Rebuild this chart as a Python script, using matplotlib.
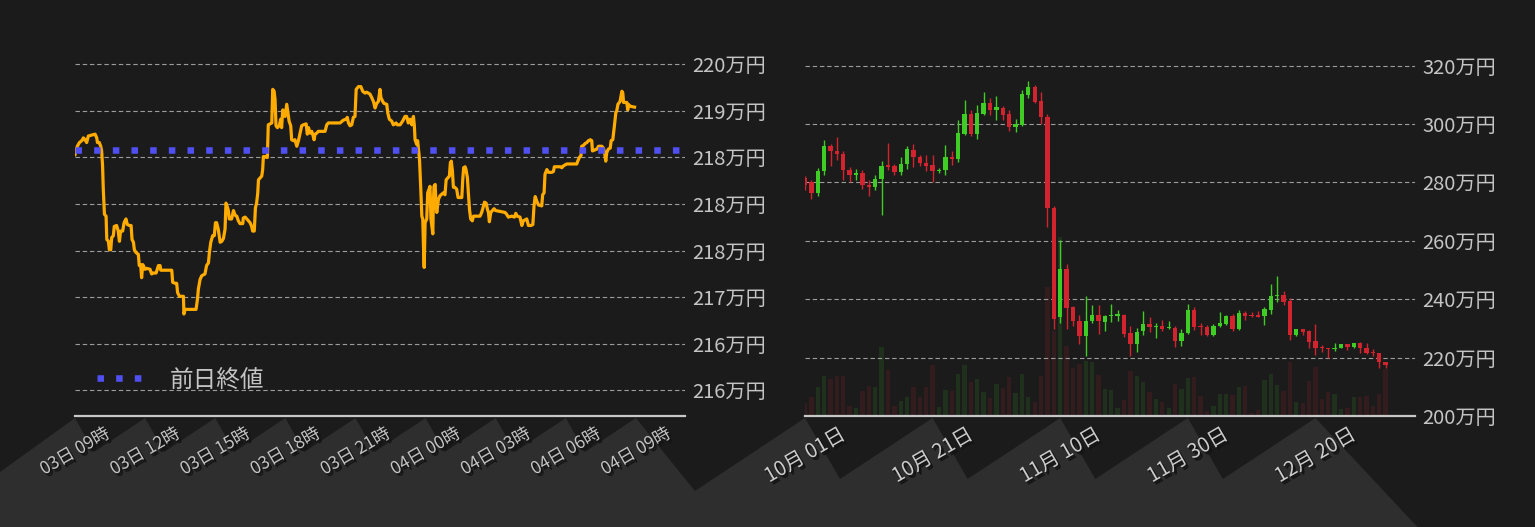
import numpy as np
import matplotlib
matplotlib.use('Agg')
import matplotlib.pyplot as plt
import matplotlib.patheffects as pe
from matplotlib.patches import Polygon
from matplotlib.transforms import IdentityTransform

FONT = ['Noto Sans CJK JP', 'DejaVu Sans']
plt.rcParams['font.family'] = FONT

# ---------------- data: intraday (left) ----------------
hours = [0.00, 0.10, 0.19, 0.29, 0.36, 0.43, 0.50, 0.57, 0.71, 0.86, 0.93, 0.96, 1.04, 1.10, 1.14, 1.18,
         1.21, 1.26, 1.33, 1.36, 1.43, 1.47, 1.53, 1.57, 1.64, 1.68, 1.78, 1.85, 1.90, 1.95, 2.04, 2.10,
         2.18, 2.24, 2.33, 2.40, 2.44, 2.50, 2.54, 2.61, 2.71, 2.75, 2.81, 2.85, 2.90, 3.00, 3.07, 3.21,
         3.28, 3.35, 3.47, 3.57, 3.64, 3.67, 3.92, 4.14, 4.18, 4.28, 4.35, 4.39, 4.47, 4.64, 4.66, 4.71,
         5.18, 5.24, 5.28, 5.35, 5.42, 5.56, 5.63, 5.71, 5.75, 5.81, 5.89, 5.96, 6.01, 6.06, 6.13, 6.21,
         6.28, 6.35, 6.42, 6.46, 6.53, 6.56, 6.60, 6.70, 6.78, 6.85, 6.92, 6.99, 7.06, 7.18, 7.20, 7.28,
         7.35, 7.42, 7.49, 7.56, 7.60, 7.67, 7.72, 7.77, 7.82, 7.85, 7.92, 7.99, 8.03, 8.06, 8.13, 8.20,
         8.23, 8.27, 8.42, 8.46, 8.52, 8.56, 8.60, 8.66, 8.74, 8.80, 8.84, 8.89, 8.94, 8.99, 9.06, 9.10,
         9.16, 9.23, 9.27, 9.34, 9.41, 9.49, 9.56, 9.63, 9.70, 9.77, 9.89, 9.94, 9.99, 10.06, 10.13, 10.17,
         10.23, 10.27, 10.34, 10.41, 10.70, 10.77, 10.84, 11.34, 11.48, 11.60, 11.65, 11.70, 11.77, 11.84, 11.91, 11.98,
         12.03, 12.13, 12.23, 12.31, 12.41, 12.48, 12.55, 12.62, 12.70, 12.77, 12.84, 12.91, 12.98, 13.05, 13.09, 13.17,
         13.22, 13.34, 13.38, 13.45, 13.55, 13.62, 13.74, 13.79, 13.91, 14.02, 14.12, 14.19, 14.26, 14.34, 14.41, 14.48,
         14.52, 14.55, 14.62, 14.66, 14.74, 14.79, 14.84, 14.88, 14.91, 14.94, 14.98, 15.05, 15.09, 15.15, 15.19, 15.23,
         15.31, 15.33, 15.36, 15.41, 15.45, 15.48, 15.55, 15.62, 15.76, 15.83, 15.88, 15.95, 16.02, 16.06, 16.10, 16.15,
         16.19, 16.25, 16.33, 16.39, 16.48, 16.55, 16.59, 16.63, 16.69, 16.73, 16.79, 16.83, 16.88, 16.93, 17.00, 17.05,
         17.33, 17.40, 17.48, 17.52, 17.59, 17.65, 17.69, 17.73, 17.79, 17.86, 17.93, 18.00, 18.40, 18.47, 18.54, 18.69,
         18.80, 18.86, 18.92, 19.04, 19.12, 19.18, 19.33, 19.40, 19.51, 19.59, 19.64, 19.69, 19.76, 19.83, 19.97, 20.01,
         20.07, 20.11, 20.19, 20.26, 20.40, 20.47, 20.51, 20.76, 20.83, 20.90, 21.04, 21.47, 21.51, 21.58, 21.65, 21.68,
         21.76, 21.83, 21.90, 21.97, 22.05, 22.11, 22.14, 22.23, 22.33, 22.40, 22.54, 22.61, 22.66, 22.71, 22.75, 22.82,
         22.90, 22.94, 23.01, 23.08, 23.14, 23.18, 23.23, 23.32, 23.40, 23.44, 23.47, 23.54, 23.61, 23.65, 23.68, 23.75,
         23.94]
price = [218.53, 218.62, 218.66, 218.68, 218.71, 218.69, 218.66, 218.73, 218.74, 218.75, 218.71, 218.66, 218.66, 218.62, 218.57, 218.41,
         218.16, 217.89, 217.87, 217.62, 217.60, 217.51, 217.51, 217.64, 217.66, 217.76, 217.77, 217.71, 217.60, 217.71, 217.71, 217.80,
         217.84, 217.78, 217.77, 217.77, 217.62, 217.59, 217.51, 217.48, 217.46, 217.34, 217.35, 217.21, 217.35, 217.30, 217.31, 217.30,
         217.25, 217.26, 217.26, 217.34, 217.34, 217.29, 217.29, 217.29, 217.16, 217.15, 217.15, 217.05, 217.01, 217.01, 216.82, 216.87,
         216.87, 216.98, 217.09, 217.19, 217.23, 217.25, 217.34, 217.37, 217.48, 217.59, 217.66, 217.66, 217.80, 217.80, 217.73, 217.59,
         217.60, 217.63, 217.73, 218.01, 217.96, 217.93, 217.84, 217.84, 217.93, 217.88, 217.87, 217.82, 217.79, 217.79, 217.85, 217.86,
         217.84, 217.82, 217.80, 217.76, 217.71, 217.71, 217.96, 218.01, 218.12, 218.26, 218.28, 218.30, 218.37, 218.51, 218.51, 218.50,
         218.50, 218.85, 218.87, 219.23, 219.21, 219.12, 218.84, 218.82, 218.84, 218.91, 218.82, 219.01, 218.98, 218.94, 219.07, 219.00,
         218.89, 218.84, 218.69, 218.68, 218.69, 218.62, 218.68, 218.76, 218.84, 218.85, 218.86, 218.75, 218.82, 218.76, 218.78, 218.75,
         218.69, 218.75, 218.76, 218.78, 218.78, 218.85, 218.87, 218.87, 218.90, 218.91, 218.93, 218.87, 218.84, 218.85, 218.93, 218.94,
         219.23, 219.26, 219.26, 219.21, 219.19, 219.20, 219.19, 219.18, 219.14, 219.10, 219.03, 219.08, 219.10, 219.23, 219.14, 219.10,
         219.08, 219.07, 218.98, 218.91, 218.89, 218.85, 218.87, 218.85, 218.85, 218.89, 218.94, 218.94, 218.87, 218.91, 218.85, 218.94,
         218.84, 218.69, 218.64, 218.68, 218.48, 218.19, 217.87, 217.84, 217.55, 217.32, 217.80, 217.84, 218.12, 218.16, 218.19, 217.84,
         217.68, 217.98, 218.19, 218.21, 217.98, 217.91, 218.05, 218.09, 218.12, 218.10, 218.26, 218.28, 218.30, 218.44, 218.46, 218.35,
         218.18, 218.18, 218.16, 218.07, 218.07, 218.07, 218.26, 218.39, 218.40, 218.37, 218.28, 218.12, 217.94, 217.84, 217.82, 217.87,
         217.87, 217.91, 217.98, 218.02, 218.01, 217.94, 217.91, 217.81, 217.91, 217.93, 217.95, 217.93, 217.91, 217.89, 217.86, 217.87,
         217.86, 217.90, 217.87, 217.86, 217.77, 217.82, 217.84, 217.77, 217.77, 217.78, 217.98, 218.08, 218.03, 217.99, 217.98, 218.10,
         218.12, 218.32, 218.37, 218.34, 218.34, 218.35, 218.40, 218.40, 218.39, 218.41, 218.43, 218.43, 218.46, 218.50, 218.52, 218.62,
         218.63, 218.65, 218.66, 218.68, 218.69, 218.68, 218.57, 218.58, 218.59, 218.62, 218.62, 218.60, 218.55, 218.46, 218.55, 218.59,
         218.60, 218.68, 218.69, 218.84, 218.98, 219.00, 219.07, 219.10, 219.21, 219.19, 219.09, 219.09, 219.09, 219.01, 219.07, 219.05,
         219.04]
prev_close = 218.58
left_tick_hours = [0, 3, 6, 9, 12, 15, 18, 21, 24]
left_tick_labels = ['03日 09時', '03日 12時', '03日 15時', '03日 18時', '03日 21時',
                    '04日 00時', '04日 03時', '04日 06時', '04日 09時']
left_ytick_values = [219.5, 219.0, 218.5, 218.0, 217.5, 217.0, 216.5, 216.0]
left_ytick_labels = ['220万円', '219万円', '218万円', '218万円', '218万円', '217万円', '216万円', '216万円']
legend_label = '前日終値'

# ---------------- data: daily candles (right) ----------------
opens = [281.5, 280.2, 276.3, 283.8, 292.6, 290.9, 289.9, 284.4, 282.4, 283.4, 279.3, 278.3, 281.1, 285.9, 285.6, 283.5,
         286.2, 291.2, 288.8, 286.8, 286.1, 283.8, 284.2, 288.8, 287.9, 296.7, 303.4, 296.7, 303.5, 307.3, 305.0, 305.6,
         303.5, 298.9, 299.8, 310.0, 312.8, 308.0, 302.5, 271.3, 233.8, 250.4, 237.2, 232.7, 227.3, 232.4, 234.7, 232.1,
         234.1, 234.4, 234.7, 228.6, 224.5, 229.0, 231.6, 230.4, 230.7, 230.1, 230.2, 225.6, 228.4, 236.4, 230.7, 230.6,
         227.7, 230.7, 231.6, 234.4, 229.9, 235.3, 234.4, 234.4, 234.1, 236.4, 241.0, 241.5, 239.4, 227.6, 229.9, 229.0,
         225.6, 223.6, 223.4, 222.8, 223.2, 224.5, 223.8, 224.9, 223.4, 221.9, 221.7, 218.6]
highs = [282.3, 281.0, 285.0, 294.6, 293.3, 295.7, 290.9, 285.3, 284.7, 284.4, 281.0, 282.7, 287.5, 293.6, 286.3, 288.8,
         292.6, 293.3, 289.5, 289.5, 289.5, 285.0, 292.9, 290.9, 301.5, 308.3, 304.9, 306.6, 311.1, 309.0, 309.7, 306.3,
         304.9, 301.8, 311.7, 314.8, 313.4, 311.1, 303.4, 272.1, 260.2, 252.2, 237.7, 234.7, 241.1, 238.1, 238.1, 234.7,
         238.4, 236.4, 234.9, 231.0, 230.2, 236.0, 233.8, 231.9, 233.0, 232.4, 231.0, 229.9, 238.4, 237.5, 231.9, 231.3,
         231.5, 235.6, 234.5, 234.9, 236.4, 236.0, 235.8, 236.0, 237.2, 245.2, 247.9, 242.8, 240.3, 229.9, 229.9, 229.3,
         231.6, 224.2, 223.4, 225.1, 224.5, 224.5, 224.9, 225.4, 224.9, 222.8, 221.7, 218.6]
lows = [277.6, 274.5, 275.3, 282.7, 285.5, 287.8, 281.0, 280.2, 281.0, 277.9, 275.3, 277.5, 269.0, 284.2, 282.5, 282.7,
        284.7, 285.2, 285.8, 283.8, 280.2, 283.1, 282.5, 285.9, 286.9, 296.4, 295.8, 295.0, 303.2, 303.0, 301.5, 301.3,
        297.5, 297.2, 299.4, 309.1, 307.4, 300.0, 264.9, 229.9, 231.7, 229.9, 230.7, 224.7, 220.6, 231.9, 228.2, 229.0,
        232.1, 232.4, 227.0, 220.6, 221.9, 227.6, 228.8, 226.6, 229.0, 229.9, 223.6, 224.0, 228.1, 229.6, 227.9, 227.5,
        227.5, 230.4, 231.3, 229.0, 229.3, 233.0, 234.0, 233.8, 231.3, 235.0, 238.9, 237.9, 226.2, 227.3, 227.9, 223.2,
        220.9, 221.9, 220.0, 222.3, 223.2, 222.5, 223.2, 221.5, 221.4, 220.6, 216.6, 216.6]
closes = [279.3, 276.3, 284.0, 292.6, 290.7, 289.7, 284.2, 282.4, 283.4, 279.0, 278.3, 281.3, 285.8, 285.4, 283.5, 286.3,
          291.6, 288.6, 286.6, 285.8, 283.8, 284.4, 288.8, 287.9, 296.9, 303.4, 296.7, 303.9, 307.3, 305.0, 305.7, 303.2,
          298.9, 300.0, 310.4, 312.8, 307.6, 302.3, 271.1, 233.4, 250.4, 237.0, 232.4, 227.3, 232.7, 234.7, 232.4, 234.4,
          234.7, 234.7, 228.2, 224.5, 228.8, 231.6, 230.4, 230.7, 229.9, 230.4, 225.6, 228.5, 236.4, 230.4, 230.4, 227.7,
          231.0, 231.9, 234.4, 229.9, 235.3, 234.1, 234.1, 234.0, 236.6, 241.1, 241.5, 239.2, 227.6, 229.9, 228.7, 225.3,
          223.2, 223.3, 222.8, 223.4, 224.5, 223.8, 224.9, 223.2, 221.5, 221.6, 218.5, 217.5]
volume = [13, 19, 29, 40, 37, 40, 40, 10, 8, 25, 30, 29, 69, 46, 10, 15, 19, 29, 19, 29, 51, 9, 26, 25, 42, 51, 34, 37,
          24, 18, 32, 28, 39, 23, 42, 19, 14, 40, 129, 85, 179, 70, 48, 52, 55, 54, 41, 27, 26, 8, 16, 45, 40, 34, 24, 17,
          14, 8, 32, 27, 38, 39, 20, 5, 10, 22, 22, 21, 29, 30, 3, 6, 36, 42, 31, 25, 54, 14, 13, 35, 49, 17, 24, 22, 7, 8,
          19, 19, 20, 10, 22, 47]
right_tick_days = [0, 20, 40, 60, 80]
right_tick_labels = ['10月 01日', '10月 21日', '11月 10日', '11月 30日', '12月 20日']
right_ytick_values = [200, 220, 240, 260, 280, 300, 320]
right_ytick_labels = ['200万円', '220万円', '240万円', '260万円', '280万円', '300万円', '320万円']

# ---------------- style ----------------
BG = '#1b1b1b'
BAND = '#2e2e2e'
TXT = '#c4c4c4'
GRID = '#9c9c9c'
ORANGE = '#ffab00'
BLUE = '#5050f2'
UP = '#3fcc25'
DOWN = '#d1242f'
W, H = 1535, 527

fig = plt.figure(figsize=(W / 100, H / 100), dpi=100, facecolor=BG)

ax_bottom_px, ax_top_px = 416, 40
bottom = (H - ax_bottom_px) / H
height = (ax_bottom_px - ax_top_px) / H
axL = fig.add_axes([75 / W, bottom, 610 / W, height], facecolor='none')
axV = fig.add_axes([805 / W, bottom, 610 / W, height], facecolor='none')
axC = axV.twinx()

shadow = [pe.SimplePatchShadow(offset=(1.0, -1.0), shadow_rgbFace='#141414', alpha=1),
          pe.SimplePatchShadow(offset=(2.0, -2.0), shadow_rgbFace='#141414', alpha=1),
          pe.Normal()]


def style_axis(ax):
    for s in ['top', 'left', 'right']:
        ax.spines[s].set_visible(False)
    ax.spines['bottom'].set_color('#c8c8c8')
    ax.spines['bottom'].set_linewidth(1.6)
    ax.spines['bottom'].set_zorder(5)
    ax.yaxis.grid(True, color=GRID, linewidth=0.8, linestyle=(0, (4, 2.5)))
    ax.set_axisbelow(False)
    ax.tick_params(axis='y', which='both', length=0, pad=5, colors=TXT, labelsize=14.5,
                   left=False, labelleft=False, right=True, labelright=True)
    ax.tick_params(axis='x', length=0, pad=6, colors=TXT)


# ---- left panel ----
style_axis(axL)
axL.plot(hours, price, color=ORANGE, linewidth=2.3, zorder=3, solid_joinstyle='round')
blue_line, = axL.plot([0, 26.1], [prev_close, prev_close], color=BLUE, linewidth=4.7,
                      dashes=(1, 1.86), dash_capstyle='butt', zorder=4, label=legend_label)
axL.set_xlim(0, 26.1)
axL.set_ylim(215.726, 219.76)
axL.set_yticks(left_ytick_values)
axL.set_yticklabels(left_ytick_labels)
axL.set_xticks(left_tick_hours)
axL.set_xticklabels(left_tick_labels, rotation=30, ha='center', va='top', fontsize=12.5,
                    color='#c4c4c4')
for t in axL.get_xticklabels():
    t.set_path_effects(shadow)
leg = axL.legend(handles=[blue_line], loc='center left', bbox_to_anchor=(22 / 610, 36 / 376),
                 frameon=False, borderpad=0, borderaxespad=0, handlelength=1.9,
                 handletextpad=1.2, prop={'family': FONT, 'size': 17})
for t in leg.get_texts():
    t.set_color(TXT)

# ---- right panel ----
x = np.arange(len(opens))
o = np.array(opens); c = np.array(closes)
up = c >= o
cols = np.where(up, UP, DOWN)
axV.bar(x, volume, width=0.68, color=cols, alpha=0.13, linewidth=0, zorder=1)
axV.set_ylim(0, ax_bottom_px - ax_top_px)
axV.set_yticks([])
for s in ['top', 'left', 'right']:
    axV.spines[s].set_visible(False)

style_axis(axC)
axC.vlines(x, lows, highs, colors=cols, linewidth=1.0, zorder=3)
body_low = np.minimum(o, c)
body_h = np.maximum(np.abs(c - o), 0.45)
axC.bar(x, body_h, bottom=body_low, width=0.68, color=cols, linewidth=0, zorder=4)
axC.set_xlim(0, 95.6)
axC.set_ylim(200.27, 328.82)
axC.set_yticks(right_ytick_values)
axC.set_yticklabels(right_ytick_labels)
axV.set_xlim(0, 95.6)
axV.set_xticks(right_tick_days)
axV.set_xticklabels(right_tick_labels, rotation=30, ha='center', va='top', fontsize=14.5,
                    color='#cccccc')
axV.tick_params(axis='x', length=0, pad=6)
axC.tick_params(axis='x', labelbottom=False)
for t in axV.get_xticklabels():
    t.set_path_effects(shadow)
axV.spines['bottom'].set_visible(True)
axV.spines['bottom'].set_color('#c8c8c8')
axV.spines['bottom'].set_linewidth(1.6)
axC.spines['bottom'].set_visible(False)

# ---- decorative band under the tick labels ----
def img_x(ax, xv):
    return ax.transData.transform((xv, 0))[0]

lt = [img_x(axL, h) for h in left_tick_hours]
rt = [img_x(axV, d) for d in right_tick_days]
pts = [(0, H), (0, 472), (lt[0], 418)]
for a, b in zip(lt[:-1], lt[1:]):
    pts += [(a + 19, 452), (b, 418)]
pts += [(lt[-1] + 59, 491), (rt[0], 418)]
for a, b in zip(rt[:-1], rt[1:]):
    pts += [(a + 35, 479), (b, 418)]
pts += [(rt[-1] + 102, H)]
poly = Polygon([(px, H - py) for px, py in pts], closed=True, facecolor=BAND,
               edgecolor='none', transform=IdentityTransform(), zorder=-1)
fig.add_artist(poly)

fig.savefig('out.png', dpi=100, facecolor=BG)
